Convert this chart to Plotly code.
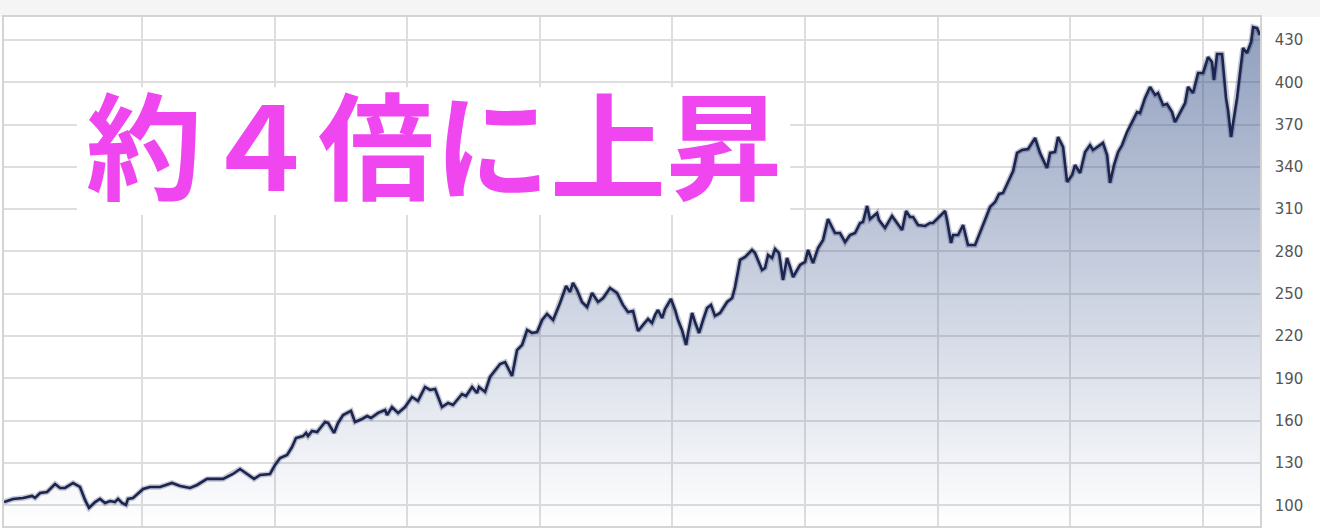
import plotly.graph_objects as go

# decimal-year positions of the samples
t = [2008.959, 2009.027, 2009.103, 2009.170, 2009.193, 2009.231, 2009.284, 2009.344, 2009.382, 2009.419,
     2009.480, 2009.532, 2009.570, 2009.600, 2009.646, 2009.683, 2009.721, 2009.759, 2009.796, 2009.819,
     2009.849, 2009.879, 2009.894, 2009.932, 2010.008, 2010.060, 2010.136, 2010.226, 2010.287, 2010.362,
     2010.415, 2010.490, 2010.611, 2010.686, 2010.739, 2010.792, 2010.845, 2010.890, 2010.965, 2011.003,
     2011.041, 2011.094, 2011.131, 2011.161, 2011.214, 2011.237, 2011.252, 2011.282, 2011.320, 2011.380,
     2011.403, 2011.448, 2011.478, 2011.516, 2011.576, 2011.606, 2011.659, 2011.697, 2011.727, 2011.780,
     2011.833, 2011.848, 2011.885, 2011.931, 2011.983, 2012.036, 2012.081, 2012.134, 2012.172, 2012.210,
     2012.262, 2012.308, 2012.345, 2012.413, 2012.443, 2012.489, 2012.526, 2012.541, 2012.587, 2012.624,
     2012.700, 2012.738, 2012.790, 2012.828, 2012.866, 2012.904, 2012.941, 2012.979, 2013.017, 2013.054,
     2013.100, 2013.152, 2013.198, 2013.228, 2013.250, 2013.281, 2013.318, 2013.356, 2013.394, 2013.439,
     2013.477, 2013.529, 2013.582, 2013.627, 2013.665, 2013.703, 2013.741, 2013.778, 2013.816, 2013.846,
     2013.869, 2013.891, 2013.922, 2013.944, 2013.989, 2014.020, 2014.042, 2014.072, 2014.103, 2014.118,
     2014.148, 2014.170, 2014.201, 2014.231, 2014.261, 2014.291, 2014.321, 2014.359, 2014.412, 2014.450,
     2014.472, 2014.510, 2014.548, 2014.600, 2014.623, 2014.676, 2014.698, 2014.721, 2014.751, 2014.774,
     2014.804, 2014.834, 2014.864, 2014.887, 2014.910, 2014.962, 2015.000, 2015.023, 2015.060, 2015.098,
     2015.136, 2015.173, 2015.226, 2015.264, 2015.302, 2015.339, 2015.377, 2015.415, 2015.437, 2015.468,
     2015.490, 2015.543, 2015.558, 2015.603, 2015.656, 2015.694, 2015.732, 2015.762, 2015.792, 2015.815,
     2015.852, 2015.905, 2015.943, 2015.965, 2016.003, 2016.056, 2016.071, 2016.101, 2016.116, 2016.154,
     2016.192, 2016.214, 2016.229, 2016.282, 2016.320, 2016.357, 2016.395, 2016.433, 2016.463, 2016.493,
     2016.531, 2016.569, 2016.599, 2016.637, 2016.682, 2016.735, 2016.772, 2016.795, 2016.825, 2016.848,
     2016.885, 2016.908, 2016.946, 2016.976, 2017.014, 2017.036, 2017.074, 2017.112, 2017.149, 2017.172,
     2017.247, 2017.278, 2017.300, 2017.330, 2017.361, 2017.391, 2017.428, 2017.466, 2017.504, 2017.526,
     2017.564, 2017.602, 2017.640,
     2017.662, 2017.700, 2017.730, 2017.768, 2017.790, 2017.828, 2017.866, 2017.888, 2017.926, 2017.964,
     2018.002, 2018.039, 2018.069, 2018.084, 2018.107, 2018.145, 2018.160, 2018.175, 2018.190, 2018.213,
     2018.228, 2018.258, 2018.281, 2018.303, 2018.333, 2018.364, 2018.379, 2018.409, 2018.431]

values = [102.3, 104.5, 105.2, 106.6, 105.2, 108.7, 109.4, 115.1, 112.3, 112.3,
          115.8, 113.0, 103.8, 98.1, 102.3, 104.5, 101.6, 103.0, 102.3, 104.5,
          101.6, 100.2, 104.5, 105.2, 111.6, 113.0, 113.0, 115.8, 113.7, 112.3,
          114.4, 118.7, 118.7, 122.2, 125.7, 122.2, 118.7, 121.5, 122.2, 128.6,
          133.5, 135.7, 141.3, 147.7, 149.1, 151.3, 149.1, 152.7, 152.0, 159.1,
          158.4, 151.3, 158.4, 164.0, 166.9, 159.1, 161.2, 163.3, 161.9, 165.5,
          167.6, 164.0, 169.7, 165.5, 169.7, 176.8, 174.0, 183.9, 181.8, 182.5,
          169.7, 172.6, 171.1, 178.9, 177.5, 183.9, 179.6, 183.9, 180.4, 191.0,
          200.2, 201.6, 191.7, 210.1, 213.7, 224.3, 222.2, 222.9, 231.4, 235.7,
          231.4, 243.5, 255.5, 251.3, 257.7, 252.7, 244.2, 240.6, 250.6, 244.2,
          247.0, 254.1, 250.6, 242.1, 237.1, 237.8, 223.6, 227.9, 232.1, 229.3,
          235.0, 238.5, 232.8, 239.2, 246.3, 238.5, 231.4, 224.3, 213.7, 222.2,
          236.4, 230.0, 222.2, 231.4, 239.9, 242.1, 234.3, 236.4, 244.2, 247.0,
          254.8, 274.0, 276.1, 281.1, 278.9, 266.9, 268.3, 277.5, 275.4, 281.8,
          278.9, 259.8, 275.4, 269.0, 261.9, 270.4, 272.6, 281.1, 271.8, 282.5,
          288.2, 303.0, 293.1, 293.1, 286.7, 291.7, 293.1, 300.2, 300.9, 312.3,
          303.0, 307.3, 302.3, 296.7, 305.2, 300.2, 295.2, 308.7, 304.5, 304.5,
          298.8, 298.1, 300.2, 300.2, 303.8, 308.7, 302.3, 286.0, 291.7, 291.7,
          298.8, 290.3, 284.6, 284.6, 293.1, 302.3, 311.6, 315.1, 320.8, 321.5,
          329.3, 337.1, 349.9, 352.0, 352.7, 360.5, 349.9, 344.9, 339.2, 349.9,
          350.6, 361.2, 354.1, 329.3, 334.3, 341.3, 335.7, 350.6, 355.5, 352.0,
          357.0, 348.4, 328.6, 341.3, 350.6, 355.5, 364.8, 371.8, 378.9, 378.2,
          388.9, 396.7, 391.0,
          392.4, 383.9, 384.6, 378.9, 371.8, 378.9, 385.3, 396.7, 392.4, 406.6,
          406.6, 417.9, 414.4, 401.6, 420.1, 420.1, 403.0, 388.9, 380.4, 361.2,
          371.1, 388.9, 407.3, 424.3, 420.8, 428.6, 439.2, 438.5, 433.5]

y_ticks = [100, 130, 160, 190, 220, 250, 280, 310, 340, 370, 400, 430]
year_grid = [2010, 2011, 2012, 2013, 2014, 2015, 2016, 2017, 2018]
headline = "約４倍に上昇"

fig = go.Figure()

# area with vertical gradient
fig.add_trace(go.Scatter(
    x=t, y=values, mode="lines", line=dict(width=0),
    fill="tozeroy",
    fillgradient=dict(type="vertical",
                      colorscale=[[0, "rgba(44,72,132,0)"], [1, "rgba(44,72,132,0.53)"]],
                      start=85, stop=446),
    hoverinfo="skip", showlegend=False))

# soft glow under the line
fig.add_trace(go.Scatter(
    x=t, y=values, mode="lines",
    line=dict(color="rgba(27,37,80,0.25)", width=5.5),
    hoverinfo="skip", showlegend=False))

fig.add_trace(go.Scatter(
    x=t, y=values, mode="lines",
    line=dict(color="#1b2550", width=2.6),
    showlegend=False))

fig.update_layout(
    width=1320, height=529,
    margin=dict(l=4, r=60, t=17, b=3),
    paper_bgcolor="white", plot_bgcolor="white",
    showlegend=False,
    xaxis=dict(range=[2008.959, 2018.431], tickvals=year_grid, showticklabels=False,
               showgrid=True, gridcolor="#dedede", gridwidth=1.5, zeroline=False,
               showline=True, linecolor="#d4d4d4", linewidth=1.5, mirror=True, ticks=""),
    yaxis=dict(range=[85.3, 446.3], tickvals=y_ticks, side="right",
               showgrid=True, gridcolor="#dedede", gridwidth=1.5, zeroline=False,
               showline=True, linecolor="#d4d4d4", linewidth=1.5, mirror=True, ticks="",
               ticklabelstandoff=10,
               tickfont=dict(family="DejaVu Sans", size=15, color="#555555")),
    shapes=[
        dict(type="rect", xref="paper", yref="paper", x0=-0.01, x1=1.06, y0=1.0, y1=1.04,
             fillcolor="#f5f5f5", line=dict(width=0), layer="below"),
        dict(type="rect", xref="paper", yref="paper", x0=0.058, x1=0.626, y0=0.611, y1=0.862,
             fillcolor="white", line=dict(width=0), layer="above"),
    ],
    annotations=[dict(
        text=headline, xref="x", yref="y", x=2012.200, y=359, xanchor="center", yanchor="middle",
        showarrow=False,
        font=dict(family="Noto Sans CJK JP", size=116, color="#f046f0", weight="bold"))],
)

fig.write_html("out.html", config={"displayModeBar": False},
               post_script="document.body.style.margin='0';document.body.style.padding='0';")
